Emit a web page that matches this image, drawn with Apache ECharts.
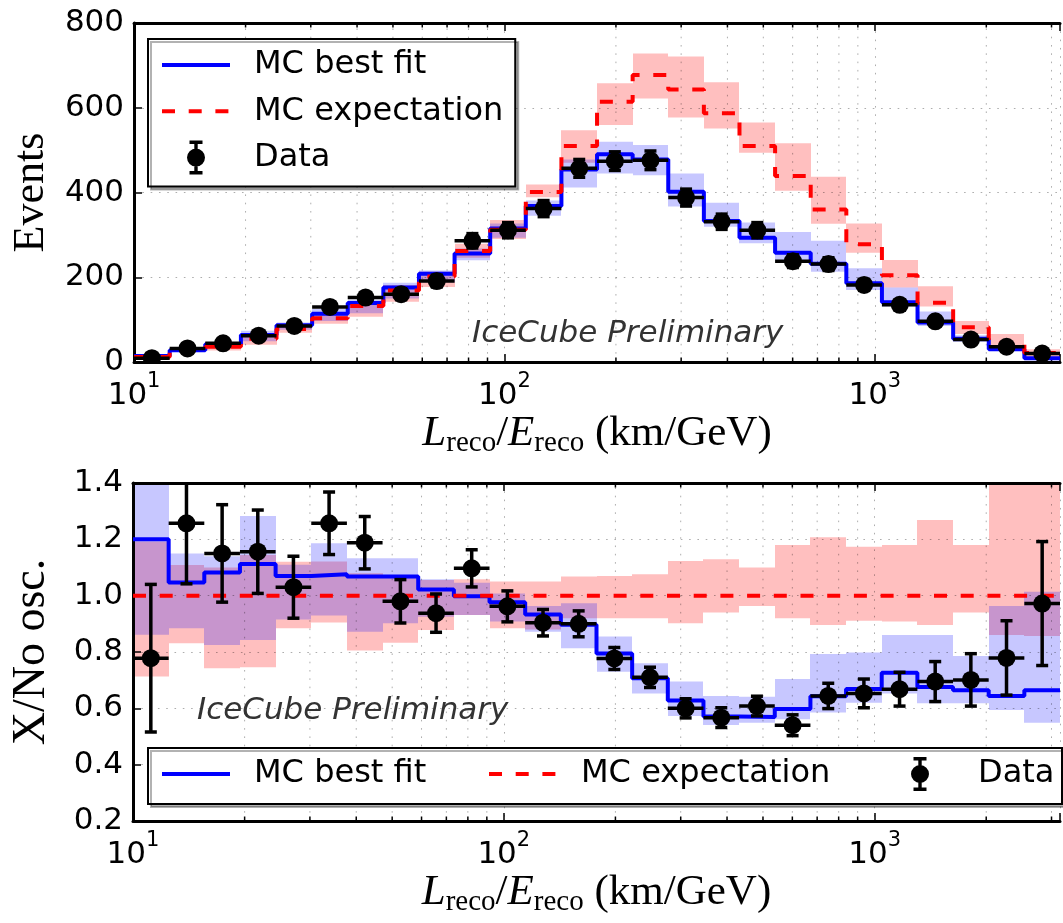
<!DOCTYPE html>
<html><head><meta charset="utf-8">
<script src="https://cdn.jsdelivr.net/npm/echarts@6/dist/echarts.min.js"></script>
<style>html,body{margin:0;padding:0;background:#fff}#c{width:1063px;height:923px}</style>
</head><body><div id="c"></div>
<script>
// ---- data ----
const binEdges = [10.0, 12.478, 15.570, 19.429, 24.244, 30.252, 37.749, 47.104, 58.777, 73.343, 91.517,
  114.20, 142.50, 177.83, 221.90, 276.89, 345.51, 431.13, 537.97, 671.29, 837.65,
  1045.2, 1304.3, 1627.5, 2030.9, 2534.2, 3162.3];
const minorTicks = [20, 30, 40, 50, 60, 70, 80, 90, 200, 300, 400, 500, 600, 700, 800, 900, 2000, 3000];
const xTickExponents = [1, 2, 3];

// top panel: events
const dataEvents    = [9, 32, 44, 62, 85, 130, 152, 160, 191, 286, 311, 362, 457, 474, 476, 388, 331, 311, 238, 231, 182, 135, 96, 53, 36, 20];
const dataEventsErr = [3, 6, 7, 8, 9, 11, 12, 13, 14, 17, 18, 19, 21, 22, 22, 20, 18, 18, 15, 15, 13, 12, 10, 7, 6, 4];
const fitEvents     = [14, 28, 42, 64, 87, 114, 139, 176, 208, 256, 315, 368, 454, 490, 478, 402, 333, 293, 258, 232, 186, 141, 93, 55, 30, 9];
const fitEventsLow  = [10, 24, 33, 49, 76, 97, 115, 150, 188, 240, 293, 345, 412, 445, 441, 367, 319, 280, 240, 213, 170, 131, 85, 47, 27, 6];
const fitEventsHigh = [18, 31, 45, 74, 93, 125, 147, 187, 216, 268, 327, 381, 478, 520, 512, 445, 376, 329, 307, 286, 221, 176, 119, 63, 38, 12];
const expEvents     = [12, 31, 36, 55, 78, 103, 132, 169, 202, 262, 312, 401, 510, 614, 677, 643, 587, 510, 439, 360, 278, 205, 140, 82, 44, 21];
const expEventsLow  = [9, 26, 27, 41, 69, 90, 107, 142, 177, 246, 290, 389, 470, 559, 622, 577, 551, 494, 404, 326, 258, 176, 131, 66, 36, 12];
const expEventsHigh = [14, 34, 39, 63, 87, 116, 143, 182, 213, 279, 335, 419, 547, 658, 728, 721, 660, 565, 516, 437, 327, 241, 179, 97, 66, 30];

// bottom panel: ratio to no oscillation
const dataRatio    = [0.778, 1.257, 1.150, 1.156, 1.030, 1.257, 1.188, 0.980, 0.938, 1.097, 0.962, 0.904, 0.900, 0.777, 0.710, 0.600, 0.567, 0.608, 0.540, 0.644, 0.653, 0.668, 0.695, 0.701, 0.779, 0.972];
const dataRatioErr = [0.262, 0.215, 0.173, 0.148, 0.110, 0.111, 0.093, 0.077, 0.068, 0.066, 0.055, 0.047, 0.046, 0.039, 0.036, 0.034, 0.035, 0.035, 0.037, 0.045, 0.051, 0.060, 0.071, 0.093, 0.132, 0.220];
const fitRatio     = [1.200, 1.047, 1.082, 1.112, 1.070, 1.076, 1.068, 1.068, 1.022, 0.998, 0.977, 0.933, 0.897, 0.795, 0.707, 0.628, 0.571, 0.569, 0.598, 0.643, 0.669, 0.726, 0.676, 0.664, 0.644, 0.664];
const fitRatioLow  = [0.861, 0.884, 0.825, 0.843, 0.915, 0.930, 0.872, 0.902, 0.925, 0.931, 0.908, 0.872, 0.813, 0.730, 0.653, 0.573, 0.541, 0.549, 0.561, 0.585, 0.620, 0.653, 0.618, 0.618, 0.594, 0.549];
const fitRatioHigh = [1.550, 1.150, 1.140, 1.283, 1.110, 1.186, 1.133, 1.133, 1.058, 1.046, 1.008, 0.963, 0.973, 0.855, 0.760, 0.695, 0.644, 0.641, 0.704, 0.793, 0.798, 0.860, 0.860, 0.786, 0.963, 1.014];
const expRatio     = [1, 1, 1, 1, 1, 1, 1, 1, 1, 1, 1, 1, 1, 1, 1, 1, 1, 1, 1, 1, 1, 1, 1, 1, 1, 1];
const expRatioLow  = [0.713, 0.831, 0.742, 0.746, 0.884, 0.905, 0.805, 0.833, 0.878, 0.931, 0.884, 0.880, 0.920, 0.920, 0.920, 0.902, 0.940, 0.963, 0.920, 0.896, 0.911, 0.908, 0.896, 0.940, 0.860, 0.857];
const expRatioHigh = [1.192, 1.109, 1.100, 1.144, 1.120, 1.121, 1.080, 1.068, 1.056, 1.058, 1.050, 1.050, 1.068, 1.070, 1.076, 1.123, 1.129, 1.100, 1.180, 1.207, 1.174, 1.180, 1.269, 1.180, 1.550, 1.550];

// ---- helpers ----
const FONT = 'DejaVu Sans';
const SERIF = 'Liberation Serif';
const BLUE = '#0000ff', RED = '#ff0000';
const PINK_BAND = 'rgba(255,0,0,0.25)', BLUE_BAND = 'rgba(0,0,255,0.22)';
const LW = 4;
const gridLine = {color: 'rgba(0,0,0,0.32)', width: 1, type: [1.6, 6.7]};
const nB = binEdges.length - 1;

const stepData = vals => vals.map((v, i) => [binEdges[i], v]).concat([[binEdges[nB], vals[nB - 1]]]);
const bandData = (lo, hi) => lo.map((l, i) => [binEdges[i], binEdges[i + 1], l, hi[i]]);
const pointData = (v, e) => v.map((x, i) => [binEdges[i], binEdges[i + 1], x, e[i]]);

function renderBand(color) {
  return function (params, api) {
    const p1 = api.coord([api.value(0), api.value(3)]);
    const p2 = api.coord([api.value(1), api.value(2)]);
    const x1 = Math.round(p1[0]), x2 = Math.round(p2[0]);
    return {type: 'rect', shape: {x: x1, y: p1[1], width: x2 - x1, height: p2[1] - p1[1]}, style: {fill: color}};
  };
}
function renderPoints(params, api) {
  const lo = api.value(0), hi = api.value(1), v = api.value(2), e = api.value(3);
  const xc = Math.sqrt(lo * hi);
  const c = api.coord([xc, v]), l = api.coord([lo, v]), r = api.coord([hi, v]);
  const t = api.coord([xc, v + e]), b = api.coord([xc, v - e]);
  const s = {stroke: '#000', lineWidth: 3.5};
  return {type: 'group', children: [
    {type: 'line', shape: {x1: l[0], y1: c[1], x2: r[0], y2: c[1]}, style: s},
    {type: 'line', shape: {x1: c[0], y1: t[1], x2: c[0], y2: b[1]}, style: s},
    {type: 'line', shape: {x1: c[0] - 6, y1: t[1], x2: c[0] + 6, y2: t[1]}, style: s},
    {type: 'line', shape: {x1: c[0] - 6, y1: b[1], x2: c[0] + 6, y2: b[1]}, style: s},
    {type: 'circle', shape: {cx: c[0], cy: c[1], r: 9}, style: {fill: '#000'}}
  ]};
}
function renderMinor(yMin, yMax) {
  return function (params, api) {
    const x = api.value(0);
    const bt = api.coord([x, yMin]), tp = api.coord([x, yMax]);
    const ts = {stroke: '#000', lineWidth: 1.5};
    return {type: 'group', children: [
      {type: 'line', shape: {x1: bt[0], y1: bt[1], x2: tp[0], y2: tp[1]}, style: {stroke: gridLine.color, lineWidth: 1, lineDash: gridLine.type}},
      {type: 'line', shape: {x1: bt[0], y1: bt[1], x2: bt[0], y2: bt[1] - 4.5}, style: ts},
      {type: 'line', shape: {x1: tp[0], y1: tp[1], x2: tp[0], y2: tp[1] + 4.5}, style: ts}
    ]};
  };
}
function powLabel(v) {
  const e = Math.log10(v), r = Math.round(e);
  return (Math.abs(e - r) < 1e-6 && xTickExponents.indexOf(r) >= 0) ? '{b|10}{s|' + r + '}' : '';
}
const tickRich = {
  b: {fontSize: 31, fontFamily: FONT, color: '#000', lineHeight: 40, verticalAlign: 'bottom'},
  s: {fontSize: 21, fontFamily: FONT, color: '#000', lineHeight: 14, verticalAlign: 'top'}
};
const xName = '{i|L}{sub|reco}{n|/}{i|E}{sub|reco}{n| (km/GeV)}';
const nameRich = {
  i: {fontFamily: SERIF, fontStyle: 'italic', fontSize: 43, color: '#000', lineHeight: 46, verticalAlign: 'top'},
  n: {fontFamily: SERIF, fontSize: 43, color: '#000', lineHeight: 46, verticalAlign: 'top'},
  sub: {fontFamily: SERIF, fontSize: 29, color: '#000', lineHeight: 20, verticalAlign: 'bottom'}
};
const spine = {show: true, onZero: false, lineStyle: {color: '#000', width: 3}};
const majorTick = {show: true, inside: true, length: 8, lineStyle: {color: '#000', width: 1.5}};

function xAxesFor(g) {
  return [{
    type: 'log', logBase: 10, gridIndex: g, min: binEdges[0], max: binEdges[nB], position: 'bottom', z: 3,
    axisLine: spine, axisTick: majorTick,
    axisLabel: {margin: 9, formatter: powLabel, rich: tickRich},
    splitLine: {show: true, lineStyle: gridLine},
    name: xName, nameLocation: 'middle', nameGap: 50, nameTextStyle: {rich: nameRich}
  }, {
    type: 'log', logBase: 10, gridIndex: g, min: binEdges[0], max: binEdges[nB], position: 'top', z: 3,
    axisLine: spine, axisTick: majorTick, axisLabel: {show: false}, splitLine: {show: false}
  }];
}

const dataIcon = 'path://M0,0M68,34M25,17A9,9,0,1,1,43,17A9,9,0,1,1,25,17ZM32.3,1.5H35.7V32.5H32.3ZM27.5,0H40.5V3.5H27.5ZM27.5,30.5H40.5V34H27.5Z';
const legendText = {fontSize: 32, fontFamily: FONT, color: '#000', padding: [0, 0, 0, 19], lineHeight: 34};
const legendLine = {width: LW};
const hideSym = {opacity: 0};
function bottomLegend(left, item) {
  return {orient: 'horizontal', left: left, top: 757, itemWidth: 68, itemHeight: 34, padding: 0,
    selectedMode: false, z: 10, textStyle: legendText, lineStyle: legendLine, data: [item]};
}

const option = {
  animation: false,
  backgroundColor: '#fff',
  grid: [
    {left: 133, top: 23, width: 940, height: 339},
    {left: 133, top: 483, width: 940, height: 338}
  ],
  xAxis: xAxesFor(0).concat(xAxesFor(1)),
  yAxis: [{
    type: 'value', gridIndex: 0, min: 0, max: 800, interval: 200, z: 3,
    axisLine: spine, axisTick: majorTick,
    axisLabel: {margin: 10, fontSize: 31, fontFamily: FONT, color: '#000'},
    splitLine: {show: true, lineStyle: gridLine},
    name: 'Events', nameLocation: 'middle', nameGap: 80, nameRotate: 90,
    nameTextStyle: {fontFamily: SERIF, fontSize: 44, color: '#000', lineHeight: 46}
  }, {
    type: 'value', gridIndex: 1, min: 0.2, max: 1.4, interval: 0.2, z: 3,
    axisLine: spine, axisTick: majorTick,
    axisLabel: {margin: 10, fontSize: 31, fontFamily: FONT, color: '#000', formatter: v => v.toFixed(1)},
    splitLine: {show: true, lineStyle: gridLine},
    name: 'X/No osc.', nameLocation: 'middle', nameGap: 78, nameRotate: 90,
    nameTextStyle: {fontFamily: SERIF, fontSize: 46, color: '#000', lineHeight: 46}
  }],
  legend: [{
    orient: 'vertical', left: 148, top: 39, itemWidth: 68, itemHeight: 34, itemGap: 12.3,
    padding: [9, 12, 12, 12], borderColor: '#000', borderWidth: 2, backgroundColor: '#fff',
    shadowColor: 'rgba(0,0,0,0.3)', shadowOffsetX: 3, shadowOffsetY: 3, shadowBlur: 0,
    selectedMode: false, z: 10, textStyle: legendText, lineStyle: legendLine,
    data: [{name: 'MC best fit', itemStyle: hideSym}, {name: 'MC expectation', itemStyle: hideSym}, {name: 'Data', icon: dataIcon}]
  },
    bottomLegend(160, {name: 'MC best fit', itemStyle: hideSym}),
    bottomLegend(487, {name: 'MC expectation', itemStyle: hideSym}),
    bottomLegend(886, {name: 'Data', icon: dataIcon})
  ],
  graphic: [
    {type: 'rect', z: 9, shape: {x: 148, y: 748, width: 914, height: 56},
     style: {fill: '#fff', stroke: '#000', lineWidth: 2, shadowColor: 'rgba(0,0,0,0.3)', shadowOffsetX: 3, shadowOffsetY: 3, shadowBlur: 0}},
    {type: 'text', x: 472, y: 334, z: 20, style: {text: 'IceCube Preliminary', fontFamily: FONT, fontStyle: 'italic', fontSize: 31, fill: '#333', verticalAlign: 'middle'}},
    {type: 'text', x: 197, y: 711, z: 20, style: {text: 'IceCube Preliminary', fontFamily: FONT, fontStyle: 'italic', fontSize: 31, fill: '#333', verticalAlign: 'middle'}}
  ],
  series: [
    // top panel
    {type: 'custom', name: 'expBandTop', xAxisIndex: 0, yAxisIndex: 0, z: 1, silent: true, clip: true,
     renderItem: renderBand(PINK_BAND), encode: {x: [0, 1], y: [2, 3]}, data: bandData(expEventsLow, expEventsHigh)},
    {type: 'custom', name: 'fitBandTop', xAxisIndex: 0, yAxisIndex: 0, z: 1, silent: true, clip: true,
     renderItem: renderBand(BLUE_BAND), encode: {x: [0, 1], y: [2, 3]}, data: bandData(fitEventsLow, fitEventsHigh)},
    {type: 'custom', name: 'minorTop', xAxisIndex: 0, yAxisIndex: 0, z: 3, silent: true,
     renderItem: renderMinor(0, 800), encode: {x: 0}, data: minorTicks.map(v => [v])},
    {type: 'line', name: 'MC best fit', xAxisIndex: 0, yAxisIndex: 0, z: 4, step: 'end', symbol: 'none',
     lineStyle: {color: BLUE, width: LW}, itemStyle: {color: BLUE}, data: stepData(fitEvents)},
    {type: 'line', name: 'MC expectation', xAxisIndex: 0, yAxisIndex: 0, z: 4, step: 'end', symbol: 'none',
     lineStyle: {color: RED, width: LW, type: [13, 13.7]}, itemStyle: {color: RED}, data: stepData(expEvents)},
    {type: 'custom', name: 'Data', xAxisIndex: 0, yAxisIndex: 0, z: 5, clip: true, itemStyle: {color: '#000'},
     renderItem: renderPoints, encode: {x: [0, 1], y: 2}, data: pointData(dataEvents, dataEventsErr)},
    // bottom panel
    {type: 'custom', name: 'expBandBot', xAxisIndex: 2, yAxisIndex: 1, z: 1, silent: true, clip: true,
     renderItem: renderBand(PINK_BAND), encode: {x: [0, 1], y: [2, 3]}, data: bandData(expRatioLow, expRatioHigh)},
    {type: 'custom', name: 'fitBandBot', xAxisIndex: 2, yAxisIndex: 1, z: 1, silent: true, clip: true,
     renderItem: renderBand(BLUE_BAND), encode: {x: [0, 1], y: [2, 3]}, data: bandData(fitRatioLow, fitRatioHigh)},
    {type: 'custom', name: 'minorBot', xAxisIndex: 2, yAxisIndex: 1, z: 3, silent: true,
     renderItem: renderMinor(0.2, 1.4), encode: {x: 0}, data: minorTicks.map(v => [v])},
    {type: 'line', name: 'MC best fit', xAxisIndex: 2, yAxisIndex: 1, z: 4, step: 'end', symbol: 'none',
     lineStyle: {color: BLUE, width: LW}, itemStyle: {color: BLUE}, data: stepData(fitRatio)},
    {type: 'line', name: 'MC expectation', xAxisIndex: 2, yAxisIndex: 1, z: 4, step: 'end', symbol: 'none',
     lineStyle: {color: RED, width: LW, type: [13, 13.7]}, itemStyle: {color: RED}, data: stepData(expRatio)},
    {type: 'custom', name: 'Data', xAxisIndex: 2, yAxisIndex: 1, z: 5, clip: true, itemStyle: {color: '#000'},
     renderItem: renderPoints, encode: {x: [0, 1], y: 2}, data: pointData(dataRatio, dataRatioErr)}
  ]
};
const chart = echarts.init(document.getElementById('c'), null, {renderer: 'canvas'});
chart.setOption(option);
</script>
</body></html>
